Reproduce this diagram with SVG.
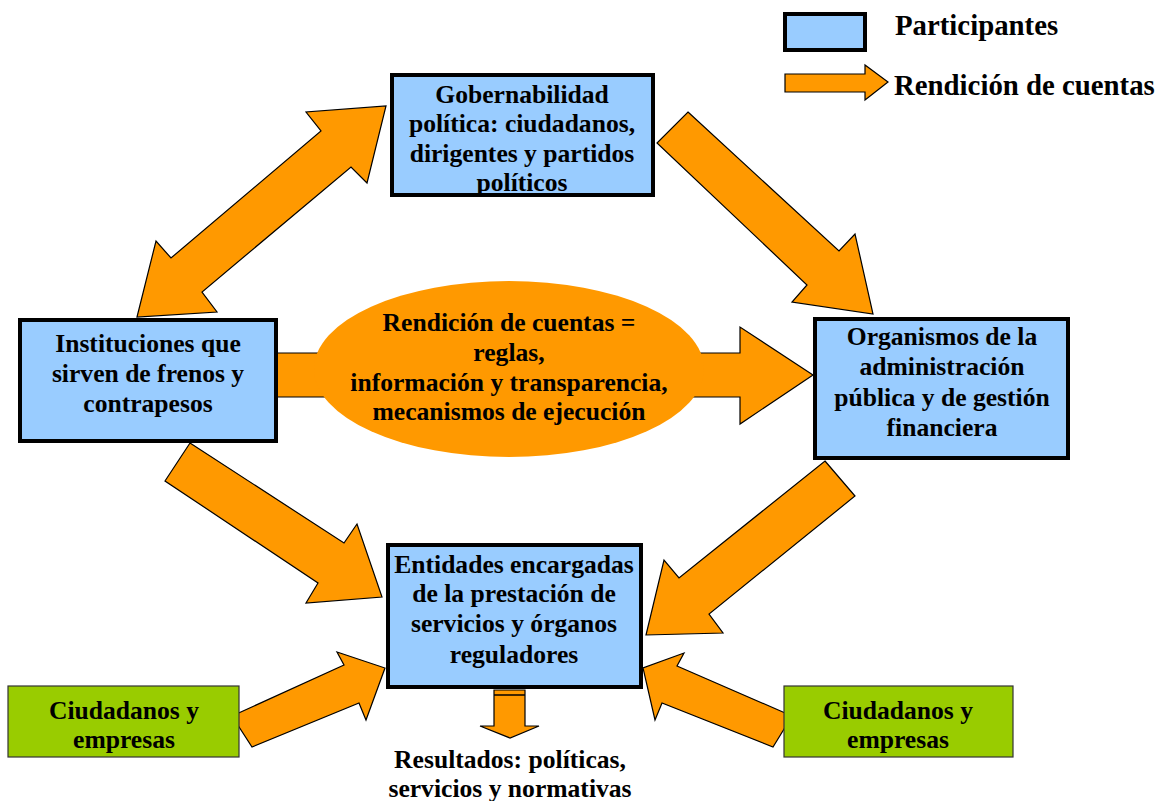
<svg xmlns="http://www.w3.org/2000/svg" width="1161" height="801" viewBox="0 0 1161 801">
<style>
.t{font-family:"Liberation Serif","Times New Roman",serif;font-weight:bold;font-size:25.6px;fill:#000;text-anchor:middle}
.lg{font-family:"Liberation Serif","Times New Roman",serif;font-weight:bold;font-size:28.8px;fill:#000}
.box{fill:#99CCFF;stroke:#000;stroke-width:4}
.gbox{fill:#99CC00;stroke:#333;stroke-width:1.2}
.arr{fill:#FF9900;stroke:#000;stroke-width:1.2;stroke-linejoin:miter}
</style>
<rect width="1161" height="801" fill="#fff"/>
<g id="legend">
<rect class="box" x="785" y="14" width="80" height="36"/>
<text class="lg" x="895" y="35">Participantes</text>
<polygon class="arr" points="785,74 865,74 865,65 888,82 865,100 865,92 785,92"/>
<text class="lg" x="894" y="95">Rendición de cuentas</text>
</g>
<g id="connectors">
<polygon class="arr" points="137,317 156,241 171,258 321,131 306,112 386,106 367,183 351,167 202,292 217,312"/>
<polygon class="arr" points="688,112 839,251 855,234 873,314 792,302 807,285 657,143"/>
<polygon class="arr" points="190,443 344,543 357,524 382,597 306,603 318,583 165,481"/>
<polygon class="arr" points="825,461 855,496 709,614 723,633 646,635 664,560 679,578"/>
<polygon class="arr" points="270,353 740,353 740,327 813,375 740,424 740,397 270,397"/>
<polygon class="arr" points="232,716 344,665 337,652 385,668 366,720 359,703 252,747"/>
<polygon class="arr" points="792,716 677,666 684,653 643,668 655,720 662,703 773,747"/>
<polygon class="arr" points="494,690 525,690 525,726 539,726 510,738 480,726 494,726"/>
<line x1="494" y1="695" x2="525" y2="695" stroke="#000" stroke-width="1.5"/>
</g>
<g id="ellipse">
<ellipse cx="509" cy="369" rx="195" ry="88" fill="#FF9900"/>
<text class="t" x="509" y="331">Rendición de cuentas =</text>
<text class="t" x="509" y="361">reglas,</text>
<text class="t" x="509" y="391">información y transparencia,</text>
<text class="t" x="509" y="420">mecanismos de ejecución</text>
</g>
<g id="gobernabilidad">
<rect class="box" x="392" y="75" width="261" height="120"/>
<text class="t" x="522" y="103">Gobernabilidad</text>
<text class="t" x="522" y="132">política: ciudadanos,</text>
<text class="t" x="522" y="162">dirigentes y partidos</text>
<text class="t" x="522" y="191">políticos</text>
</g>
<g id="instituciones">
<rect class="box" x="20" y="320" width="256" height="121"/>
<text class="t" x="148" y="352">Instituciones que</text>
<text class="t" x="148" y="382">sirven de frenos y</text>
<text class="t" x="148" y="412">contrapesos</text>
</g>
<g id="organismos">
<rect class="box" x="815" y="319" width="253" height="139"/>
<text class="t" x="942" y="345">Organismos de la</text>
<text class="t" x="942" y="375">administración</text>
<text class="t" x="942" y="406">pública y de gestión</text>
<text class="t" x="942" y="436">financiera</text>
</g>
<g id="entidades">
<rect class="box" x="388" y="545" width="253" height="142"/>
<text class="t" x="514" y="573">Entidades encargadas</text>
<text class="t" x="514" y="602">de la prestación de</text>
<text class="t" x="514" y="632">servicios y órganos</text>
<text class="t" x="514" y="663">reguladores</text>
</g>
<g id="ciudadanos-izq">
<rect class="gbox" x="8" y="686" width="231" height="71"/>
<text class="t" x="124" y="719">Ciudadanos y</text>
<text class="t" x="124" y="748">empresas</text>
</g>
<g id="ciudadanos-der">
<rect class="gbox" x="784" y="686" width="229" height="71"/>
<text class="t" x="898" y="719">Ciudadanos y</text>
<text class="t" x="898" y="748">empresas</text>
</g>
<g id="resultados">
<text class="t" x="510" y="768">Resultados: políticas,</text>
<text class="t" x="510" y="797">servicios y normativas</text>
</g>
</svg>
